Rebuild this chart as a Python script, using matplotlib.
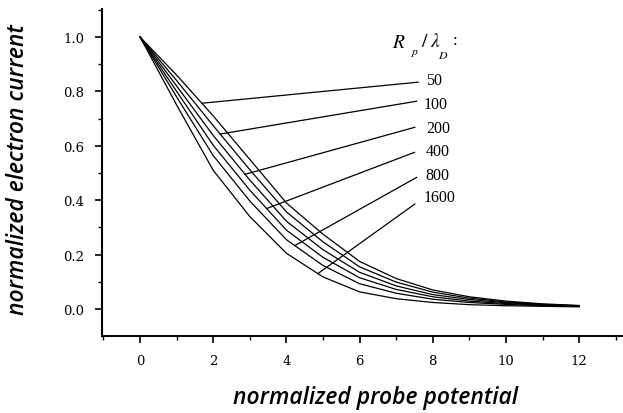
import numpy as np
import matplotlib
matplotlib.use("Agg")
import matplotlib.pyplot as plt
from matplotlib.ticker import MultipleLocator

plt.rcParams["mathtext.fontset"] = "stix"

# ---- data ----
potential = [0, 1, 2, 3, 4, 5, 6, 7, 8, 9, 10, 11, 12]
ratio_labels = ["50", "100", "200", "400", "800", "1600"]
current_50 = [1.0, 0.86, 0.71, 0.55, 0.39, 0.275, 0.175, 0.112, 0.070, 0.045, 0.029, 0.019, 0.013]
current_100 = [1.0, 0.84, 0.674, 0.512, 0.357, 0.247, 0.155, 0.099, 0.062, 0.040, 0.026, 0.017, 0.012]
current_200 = [1.0, 0.82, 0.638, 0.474, 0.323, 0.218, 0.135, 0.085, 0.053, 0.035, 0.023, 0.016, 0.011]
current_400 = [1.0, 0.80, 0.602, 0.437, 0.290, 0.190, 0.115, 0.072, 0.045, 0.029, 0.020, 0.014, 0.010]
current_800 = [1.0, 0.78, 0.564, 0.397, 0.255, 0.160, 0.093, 0.058, 0.036, 0.024, 0.017, 0.012, 0.009]
current_1600 = [1.0, 0.75, 0.51, 0.34, 0.205, 0.118, 0.063, 0.038, 0.024, 0.016, 0.012, 0.010, 0.008]
series = [current_50, current_100, current_200, current_400, current_800, current_1600]

# leader lines: point on curve (x) and label anchor (x, y) in data units
leader_x_on_curve = [1.69, 2.19, 2.87, 3.46, 4.23, 4.86]
leader_end = [(7.60, 0.834), (7.56, 0.764), (7.51, 0.668), (7.50, 0.576), (7.56, 0.484), (7.51, 0.386)]
label_pos = [(7.81, 0.841), (7.76, 0.754), (7.81, 0.667), (7.81, 0.582), (7.81, 0.494), (7.76, 0.411)]

fig = plt.figure(figsize=(6.23, 4.14), dpi=100)
ax = fig.add_axes([102 / 623, (414 - 336.5) / 414, 521 / 623, 326.5 / 414])

for ys in series:
    ax.plot(potential, ys, color="black", lw=0.9, solid_joinstyle="miter")

for xs, ys, (ex, ey), (lx, ly), lab in zip(leader_x_on_curve, series, leader_end, label_pos, ratio_labels):
    yc = np.interp(xs, potential, ys)
    ax.plot([xs, ex], [yc, ey], color="black", lw=0.9)
    ax.text(lx, ly, lab, fontsize=11.5, family="Liberation Serif", va="center", ha="left")

# legend heading  R_p / lambda_D :
ax.text(6.885, 0.985, r"$R$", fontsize=14, ha="left", va="center")
ax.text(7.40, 0.946, r"$p$", fontsize=8.5, ha="left", va="center")
ax.text(7.68, 0.986, r"$/$", fontsize=14, ha="left", va="center")
ax.text(7.92, 0.986, r"$\lambda$", fontsize=14, ha="left", va="center")
ax.text(8.14, 0.935, r"$D$", fontsize=8.5, ha="left", va="center")
ax.text(8.62, 0.99, ":", fontsize=12, family="Liberation Serif", ha="center", va="center")

ax.set_xlim(-1.04, 13.2)
ax.set_ylim(-0.0974, 1.103)
ax.spines["top"].set_visible(False)
ax.spines["right"].set_visible(False)
ax.spines["left"].set_linewidth(1.5)
ax.spines["bottom"].set_linewidth(1.4)

ax.xaxis.set_major_locator(MultipleLocator(2))
ax.xaxis.set_minor_locator(MultipleLocator(1))
ax.yaxis.set_major_locator(MultipleLocator(0.2))
ax.yaxis.set_minor_locator(MultipleLocator(0.1))
ax.set_xticks([0, 2, 4, 6, 8, 10, 12])
ax.set_yticks([0.0, 0.2, 0.4, 0.6, 0.8, 1.0])
ax.set_yticklabels(["0.0", "0.2", "0.4", "0.6", "0.8", "1.0"])
ax.tick_params(which="major", length=5, width=1.2, direction="out")
ax.tick_params(which="minor", length=3, width=1.0, direction="out")
ax.tick_params(axis="x", which="major", pad=8)
ax.tick_params(axis="y", which="major", pad=8)
for t in ax.get_xticklabels() + ax.get_yticklabels():
    t.set_fontfamily("DejaVu Serif")
    t.set_fontsize(9.5)

fig.text(376 / 623, 1 - 398 / 414, "normalized probe potential", ha="center", va="center",
         fontsize=16.5, family="Open Sans", style="italic", weight="semibold")
fig.text(18 / 623, 1 - 170 / 414, "normalized electron current", ha="center", va="center",
         rotation=90, fontsize=16.5, family="Open Sans", style="italic", weight="semibold")

fig.savefig("out.png", dpi=100)
